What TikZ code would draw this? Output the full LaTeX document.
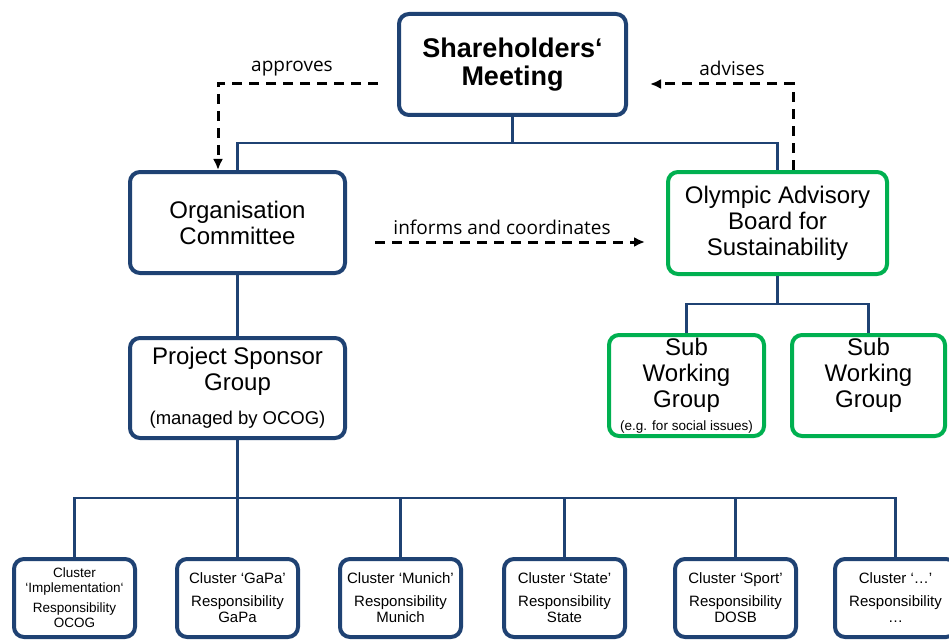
\documentclass[tikz,border=0pt]{standalone}
\usepackage{fontspec}
\setmainfont{Liberation Sans}
\newfontfamily\lblfont{Open Sans}
\usepackage{tikz}
\usetikzlibrary{arrows.meta, positioning, calc}
\definecolor{navyline}{HTML}{1F4273}
\definecolor{boardgreen}{HTML}{00B050}

\begin{document}
\begin{tikzpicture}[x=1pt, y=-1pt, bluebox/.style={draw=navyline, line width=4pt,
      rounded corners=10pt, fill=white, align=center, inner sep=0pt,
      font=\fontsize{24}{26}\selectfont}, greenbox/.style={bluebox,
      draw=boardgreen}, clusterbox/.style={bluebox, minimum width=121,
      minimum height=78, font=\fontsize{15}{16}\selectfont}, conn/.style={line
      width=2.7pt, navyline}, flowarrow/.style={line width=3pt, dash pattern=on
      10pt off 7pt, -{Latex[length=11pt,width=10pt]}}, flowlabel/.style={font=\lblfont\fontsize{19}{22}\selectfont}, ]

    \useasboundingbox (0,0) rectangle (949,639);

    % Top level
    \node[bluebox, minimum width=227, minimum height=101,
    font=\bfseries\fontsize{27}{28}\selectfont] (share) at (512.5,64.5)
    {\raisebox{-2pt}{Shareholders‘}\\\raisebox{-2pt}{Meeting}};

    % Committee and board
    \node[bluebox, minimum width=215, minimum height=101] (orgc) at (237.5,222.5)
    {Organisation\\Committee}; \node[greenbox, minimum width=219, minimum
    height=102] (oab) at (777.5,223) {Olympic Advisory\\Board for\\Sustainability};

    % Project sponsor group
    \node[bluebox, minimum width=215, minimum height=100] (psg) at (237.5,388)
    {Project Sponsor\\Group\\[8pt]{\fontsize{18.5}{20}\selectfont (managed by
    OCOG)}};

    % Sub working groups
    \node[greenbox, minimum width=155, minimum height=101] (swga) at
    (686.5,385.5) {Sub\\Working\\Group\\[-3pt]{\fontsize{13.5}{14}\selectfont
    (e.g. for social issues)}}; \node[greenbox, minimum width=153, minimum
    height=101] (swgb) at (868.5,385.5) {Sub\\Working\\Group\\\mbox{}};

    % Clusters
    \node[clusterbox, font=\fontsize{13.5}{15}\selectfont] (cimpl) at (74.5,598)
    {Cluster\\‘Implementation‘\\[5pt]Responsibility\\OCOG}; \node[clusterbox]
    (cgapa) at (237.5,598) {Cluster ‘GaPa’\\[7pt]Responsibility\\GaPa};
    \node[clusterbox] (cmuc) at (400.5,598) {Cluster ‘Munich’\\[7pt]Responsibility\\Munich};
    \node[clusterbox] (cstate) at (564.5,598) {Cluster ‘State’\\[7pt]Responsibility\\State};
    \node[clusterbox] (csport) at (735.5,598) {Cluster ‘Sport’\\[7pt]Responsibility\\DOSB};
    \node[clusterbox] (cmore) at (895.5,598) {Cluster ‘…’\\[7pt]Responsibility\\…};

    % Tree lines
    \coordinate (topbus) at (512.5,143); \coordinate (boardbus) at (777.5,304);
    \coordinate (clusterbus) at (237.5,498);
    \draw[conn] (share.south) -- (topbus) -| (orgc.north); \draw[conn] (topbus)
    -| (oab.north); \draw[conn] (orgc.south) -- (psg.north);
    \draw[conn] (oab.south) -- (boardbus) -| (swga.north); \draw[conn]
    (boardbus) -| (swgb.north);
    \draw[conn] (psg.south) -- (clusterbus);
    \foreach \c in {cimpl,cgapa,cmuc,cstate,csport,cmore} {
      \draw[conn] (clusterbus) -| (\c.north);
    }

    % Dashed relations
    \coordinate (apprstart) at (378,84); \coordinate (advend) at (650,84);
    \coordinate (infstart) at (375,242); \coordinate (infend) at (645,242);
    \draw[flowarrow] (apprstart) -| ([xshift=-19.5pt]orgc.north);
    \draw[flowarrow] ([xshift=15.5pt]oab.north) |- (advend);
    \draw[flowarrow] (infstart) -- (infend);

    % Relation labels
    \node[flowlabel] (apprlbl) at (292,69) {approves}; \node[flowlabel]
    (advlbl) at (732,68) {advises}; \node[flowlabel] (inflbl) at (502,227)
    {informs and coordinates};

\end{tikzpicture}
\end{document}
